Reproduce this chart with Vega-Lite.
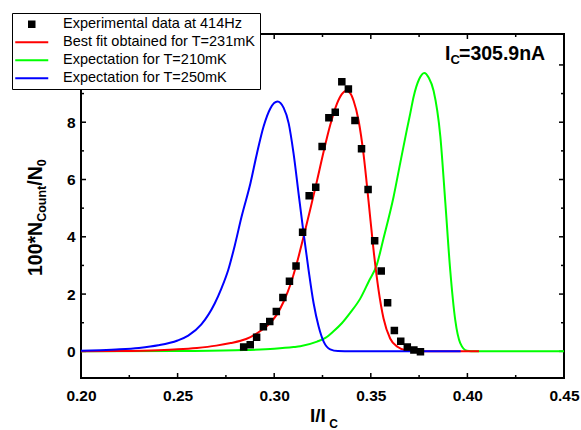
{
  "$schema": "https://vega.github.io/schema/vega-lite/v6.json",
  "width": 483,
  "height": 344,
  "autosize": {"type": "none"},
  "padding": {"left": 81, "top": 34, "right": 17, "bottom": 52},
  "background": "white",
  "config": {
    "font": "Liberation Sans",
    "view": {"stroke": "black", "strokeWidth": 2},
    "axis": {"grid": false, "domain": false, "ticks": false, "tickSize": 0, "labelFont": "Liberation Sans", "labelFontWeight": "bold", "labelFontSize": 15.5, "labelColor": "black", "labelFlush": false, "labelOverlap": false, "labelBound": false}
  },
  "datasets": {
    "xticks": [
      {"v": 0.2, "kind": "major"}, {"v": 0.25, "kind": "major"}, {"v": 0.3, "kind": "major"}, {"v": 0.35, "kind": "major"}, {"v": 0.4, "kind": "major"}, {"v": 0.45, "kind": "major"},
      {"v": 0.225, "kind": "minor"}, {"v": 0.275, "kind": "minor"}, {"v": 0.325, "kind": "minor"}, {"v": 0.375, "kind": "minor"}, {"v": 0.425, "kind": "minor"}
    ],
    "yticks": [
      {"v": 0, "kind": "major"}, {"v": 2, "kind": "major"}, {"v": 4, "kind": "major"}, {"v": 6, "kind": "major"}, {"v": 8, "kind": "major"}, {"v": 10, "kind": "major"},
      {"v": 1, "kind": "minor"}, {"v": 3, "kind": "minor"}, {"v": 5, "kind": "minor"}, {"v": 7, "kind": "minor"}, {"v": 9, "kind": "minor"}
    ],
    "curves": [
      {"series": "Expectation for T=210mK", "x": 0.20, "y": 0},
      {"series": "Expectation for T=210mK", "x": 0.25, "y": 0.01},
      {"series": "Expectation for T=210mK", "x": 0.28, "y": 0.04},
      {"series": "Expectation for T=210mK", "x": 0.30, "y": 0.09},
      {"series": "Expectation for T=210mK", "x": 0.31, "y": 0.15},
      {"series": "Expectation for T=210mK", "x": 0.3135, "y": 0.18},
      {"series": "Expectation for T=210mK", "x": 0.3222, "y": 0.34},
      {"series": "Expectation for T=210mK", "x": 0.3265, "y": 0.47},
      {"series": "Expectation for T=210mK", "x": 0.3307, "y": 0.7},
      {"series": "Expectation for T=210mK", "x": 0.335, "y": 0.98},
      {"series": "Expectation for T=210mK", "x": 0.3394, "y": 1.35},
      {"series": "Expectation for T=210mK", "x": 0.3446, "y": 1.85},
      {"series": "Expectation for T=210mK", "x": 0.349, "y": 2.45},
      {"series": "Expectation for T=210mK", "x": 0.353, "y": 3.0},
      {"series": "Expectation for T=210mK", "x": 0.3566, "y": 3.95},
      {"series": "Expectation for T=210mK", "x": 0.3618, "y": 5.4},
      {"series": "Expectation for T=210mK", "x": 0.3653, "y": 6.6},
      {"series": "Expectation for T=210mK", "x": 0.3687, "y": 7.75},
      {"series": "Expectation for T=210mK", "x": 0.3704, "y": 8.3},
      {"series": "Expectation for T=210mK", "x": 0.3722, "y": 8.9},
      {"series": "Expectation for T=210mK", "x": 0.375, "y": 9.5},
      {"series": "Expectation for T=210mK", "x": 0.3777, "y": 9.72},
      {"series": "Expectation for T=210mK", "x": 0.38, "y": 9.55},
      {"series": "Expectation for T=210mK", "x": 0.3825, "y": 9.1},
      {"series": "Expectation for T=210mK", "x": 0.386, "y": 7.5},
      {"series": "Expectation for T=210mK", "x": 0.3886, "y": 5.17},
      {"series": "Expectation for T=210mK", "x": 0.3911, "y": 2.84},
      {"series": "Expectation for T=210mK", "x": 0.3937, "y": 1.1},
      {"series": "Expectation for T=210mK", "x": 0.3963, "y": 0.29},
      {"series": "Expectation for T=210mK", "x": 0.3998, "y": 0.02},
      {"series": "Expectation for T=210mK", "x": 0.404, "y": 0},
      {"series": "Expectation for T=210mK", "x": 0.45, "y": 0},

      {"series": "Best fit obtained for T=231mK", "x": 0.20, "y": 0},
      {"series": "Best fit obtained for T=231mK", "x": 0.22, "y": 0.01},
      {"series": "Best fit obtained for T=231mK", "x": 0.24, "y": 0.04},
      {"series": "Best fit obtained for T=231mK", "x": 0.25, "y": 0.07},
      {"series": "Best fit obtained for T=231mK", "x": 0.26, "y": 0.12},
      {"series": "Best fit obtained for T=231mK", "x": 0.27, "y": 0.2},
      {"series": "Best fit obtained for T=231mK", "x": 0.2775, "y": 0.29},
      {"series": "Best fit obtained for T=231mK", "x": 0.2826, "y": 0.37},
      {"series": "Best fit obtained for T=231mK", "x": 0.2877, "y": 0.5},
      {"series": "Best fit obtained for T=231mK", "x": 0.293, "y": 0.72},
      {"series": "Best fit obtained for T=231mK", "x": 0.298, "y": 1.0},
      {"series": "Best fit obtained for T=231mK", "x": 0.3015, "y": 1.3},
      {"series": "Best fit obtained for T=231mK", "x": 0.3049, "y": 1.74},
      {"series": "Best fit obtained for T=231mK", "x": 0.3085, "y": 2.35},
      {"series": "Best fit obtained for T=231mK", "x": 0.3118, "y": 3.1},
      {"series": "Best fit obtained for T=231mK", "x": 0.3152, "y": 4.0},
      {"series": "Best fit obtained for T=231mK", "x": 0.3187, "y": 4.97},
      {"series": "Best fit obtained for T=231mK", "x": 0.3222, "y": 5.97},
      {"series": "Best fit obtained for T=231mK", "x": 0.3256, "y": 6.98},
      {"series": "Best fit obtained for T=231mK", "x": 0.329, "y": 7.9},
      {"series": "Best fit obtained for T=231mK", "x": 0.3325, "y": 8.65},
      {"series": "Best fit obtained for T=231mK", "x": 0.335, "y": 8.98},
      {"series": "Best fit obtained for T=231mK", "x": 0.3373, "y": 9.1},
      {"series": "Best fit obtained for T=231mK", "x": 0.3395, "y": 9.0},
      {"series": "Best fit obtained for T=231mK", "x": 0.3411, "y": 8.75},
      {"series": "Best fit obtained for T=231mK", "x": 0.3437, "y": 8.05},
      {"series": "Best fit obtained for T=231mK", "x": 0.3463, "y": 6.85},
      {"series": "Best fit obtained for T=231mK", "x": 0.3489, "y": 5.2},
      {"series": "Best fit obtained for T=231mK", "x": 0.3514, "y": 3.55},
      {"series": "Best fit obtained for T=231mK", "x": 0.354, "y": 2.15},
      {"series": "Best fit obtained for T=231mK", "x": 0.3566, "y": 1.15},
      {"series": "Best fit obtained for T=231mK", "x": 0.36, "y": 0.45},
      {"series": "Best fit obtained for T=231mK", "x": 0.364, "y": 0.15},
      {"series": "Best fit obtained for T=231mK", "x": 0.368, "y": 0.04},
      {"series": "Best fit obtained for T=231mK", "x": 0.372, "y": 0.01},
      {"series": "Best fit obtained for T=231mK", "x": 0.38, "y": 0},
      {"series": "Best fit obtained for T=231mK", "x": 0.406, "y": 0},

      {"series": "Expectation for T=250mK", "x": 0.20, "y": 0.02},
      {"series": "Expectation for T=250mK", "x": 0.21, "y": 0.04},
      {"series": "Expectation for T=250mK", "x": 0.22, "y": 0.07},
      {"series": "Expectation for T=250mK", "x": 0.23, "y": 0.12},
      {"series": "Expectation for T=250mK", "x": 0.24, "y": 0.21},
      {"series": "Expectation for T=250mK", "x": 0.25, "y": 0.38},
      {"series": "Expectation for T=250mK", "x": 0.2555, "y": 0.55},
      {"series": "Expectation for T=250mK", "x": 0.2623, "y": 0.94},
      {"series": "Expectation for T=250mK", "x": 0.2692, "y": 1.67},
      {"series": "Expectation for T=250mK", "x": 0.2727, "y": 2.2},
      {"series": "Expectation for T=250mK", "x": 0.2762, "y": 2.84},
      {"series": "Expectation for T=250mK", "x": 0.2796, "y": 3.7},
      {"series": "Expectation for T=250mK", "x": 0.2831, "y": 4.7},
      {"series": "Expectation for T=250mK", "x": 0.2877, "y": 5.87},
      {"series": "Expectation for T=250mK", "x": 0.2911, "y": 6.92},
      {"series": "Expectation for T=250mK", "x": 0.2945, "y": 7.85},
      {"series": "Expectation for T=250mK", "x": 0.298, "y": 8.48},
      {"series": "Expectation for T=250mK", "x": 0.3017, "y": 8.72},
      {"series": "Expectation for T=250mK", "x": 0.3049, "y": 8.5},
      {"series": "Expectation for T=250mK", "x": 0.3075, "y": 7.96},
      {"series": "Expectation for T=250mK", "x": 0.31, "y": 6.92},
      {"series": "Expectation for T=250mK", "x": 0.3126, "y": 5.52},
      {"series": "Expectation for T=250mK", "x": 0.3152, "y": 4.13},
      {"series": "Expectation for T=250mK", "x": 0.3178, "y": 2.84},
      {"series": "Expectation for T=250mK", "x": 0.3204, "y": 1.68},
      {"series": "Expectation for T=250mK", "x": 0.323, "y": 0.87},
      {"series": "Expectation for T=250mK", "x": 0.3256, "y": 0.34},
      {"series": "Expectation for T=250mK", "x": 0.329, "y": 0.07},
      {"series": "Expectation for T=250mK", "x": 0.333, "y": 0.01},
      {"series": "Expectation for T=250mK", "x": 0.34, "y": 0},
      {"series": "Expectation for T=250mK", "x": 0.3965, "y": 0}
    ],
    "exp": [
      {"series": "Experimental data at 414Hz", "x": 0.2842, "y": 0.15},
      {"series": "Experimental data at 414Hz", "x": 0.2876, "y": 0.23},
      {"series": "Experimental data at 414Hz", "x": 0.2909, "y": 0.49},
      {"series": "Experimental data at 414Hz", "x": 0.2944, "y": 0.86},
      {"series": "Experimental data at 414Hz", "x": 0.2977, "y": 1.04},
      {"series": "Experimental data at 414Hz", "x": 0.3011, "y": 1.39},
      {"series": "Experimental data at 414Hz", "x": 0.3045, "y": 1.88},
      {"series": "Experimental data at 414Hz", "x": 0.3079, "y": 2.45},
      {"series": "Experimental data at 414Hz", "x": 0.3113, "y": 2.98},
      {"series": "Experimental data at 414Hz", "x": 0.3147, "y": 4.16},
      {"series": "Experimental data at 414Hz", "x": 0.3181, "y": 5.43},
      {"series": "Experimental data at 414Hz", "x": 0.3215, "y": 5.73},
      {"series": "Experimental data at 414Hz", "x": 0.3248, "y": 7.15},
      {"series": "Experimental data at 414Hz", "x": 0.3283, "y": 8.16},
      {"series": "Experimental data at 414Hz", "x": 0.3316, "y": 8.35},
      {"series": "Experimental data at 414Hz", "x": 0.3350, "y": 9.41},
      {"series": "Experimental data at 414Hz", "x": 0.3384, "y": 9.16},
      {"series": "Experimental data at 414Hz", "x": 0.3418, "y": 8.06},
      {"series": "Experimental data at 414Hz", "x": 0.3452, "y": 7.07},
      {"series": "Experimental data at 414Hz", "x": 0.3486, "y": 5.65},
      {"series": "Experimental data at 414Hz", "x": 0.3520, "y": 3.86},
      {"series": "Experimental data at 414Hz", "x": 0.3554, "y": 2.81},
      {"series": "Experimental data at 414Hz", "x": 0.3587, "y": 1.70},
      {"series": "Experimental data at 414Hz", "x": 0.3622, "y": 0.73},
      {"series": "Experimental data at 414Hz", "x": 0.3655, "y": 0.35},
      {"series": "Experimental data at 414Hz", "x": 0.3689, "y": 0.15},
      {"series": "Experimental data at 414Hz", "x": 0.3723, "y": 0.05},
      {"series": "Experimental data at 414Hz", "x": 0.3757, "y": -0.01}
    ],
    "notes": [
      {"role": "xt", "text": "I/I", "x": 0.31853, "y": -2.466},
      {"role": "xs", "text": "C", "x": 0.3285, "y": -2.676},
      {"role": "ab", "text": "I", "x": 0.38841, "y": 10.172},
      {"role": "as", "text": "C", "x": 0.39125, "y": 10.033},
      {"role": "ab", "text": "=305.9nA", "x": 0.39565, "y": 10.172},
      {"role": "yt", "text": "100*N", "x": 0.17981, "y": 2.631},
      {"role": "ys", "text": "Count", "x": 0.18188, "y": 4.523},
      {"role": "yt", "text": "/N", "x": 0.17981, "y": 5.784},
      {"role": "ys", "text": "0", "x": 0.18188, "y": 6.465}
    ]
  },
  "layer": [
    {
      "data": {"name": "xticks"},
      "transform": [{"filter": "datum.kind === 'major'"}],
      "mark": {"type": "rule", "color": "black", "strokeWidth": 1.5},
      "encoding": {
        "x": {"field": "v", "type": "quantitative", "scale": {"domain": [0.2, 0.45], "nice": false, "zero": false}, "axis": {"orient": "bottom", "values": [0.2, 0.25, 0.3, 0.35, 0.4, 0.45], "format": ".2f", "labelPadding": 10, "title": null}},
        "y": {"datum": -0.93, "type": "quantitative", "scale": {"domain": [-0.93, 11.08], "nice": false, "zero": false}, "axis": {"orient": "left", "values": [0, 2, 4, 6, 8], "format": "d", "labelPadding": 6, "title": null}},
        "y2": {"datum": -0.755}
      }
    },
    {
      "data": {"name": "xticks"},
      "transform": [{"filter": "datum.kind === 'minor'"}],
      "mark": {"type": "rule", "color": "black", "strokeWidth": 1.5},
      "encoding": {
        "x": {"field": "v", "type": "quantitative"},
        "y": {"datum": -0.93, "type": "quantitative"},
        "y2": {"datum": -0.825}
      }
    },
    {
      "data": {"name": "xticks"},
      "transform": [{"filter": "datum.kind === 'major'"}],
      "mark": {"type": "rule", "color": "black", "strokeWidth": 1.5},
      "encoding": {
        "x": {"field": "v", "type": "quantitative"},
        "y": {"datum": 11.08, "type": "quantitative"},
        "y2": {"datum": 10.905}
      }
    },
    {
      "data": {"name": "xticks"},
      "transform": [{"filter": "datum.kind === 'minor'"}],
      "mark": {"type": "rule", "color": "black", "strokeWidth": 1.5},
      "encoding": {
        "x": {"field": "v", "type": "quantitative"},
        "y": {"datum": 11.08, "type": "quantitative"},
        "y2": {"datum": 10.975}
      }
    },
    {
      "data": {"name": "yticks"},
      "transform": [{"filter": "datum.kind === 'major'"}],
      "mark": {"type": "rule", "color": "black", "strokeWidth": 1.5},
      "encoding": {
        "y": {"field": "v", "type": "quantitative"},
        "x": {"datum": 0.2, "type": "quantitative"},
        "x2": {"datum": 0.20259}
      }
    },
    {
      "data": {"name": "yticks"},
      "transform": [{"filter": "datum.kind === 'minor'"}],
      "mark": {"type": "rule", "color": "black", "strokeWidth": 1.5},
      "encoding": {
        "y": {"field": "v", "type": "quantitative"},
        "x": {"datum": 0.2, "type": "quantitative"},
        "x2": {"datum": 0.20155}
      }
    },
    {
      "data": {"name": "yticks"},
      "transform": [{"filter": "datum.kind === 'major'"}],
      "mark": {"type": "rule", "color": "black", "strokeWidth": 1.5},
      "encoding": {
        "y": {"field": "v", "type": "quantitative"},
        "x": {"datum": 0.45, "type": "quantitative"},
        "x2": {"datum": 0.44741}
      }
    },
    {
      "data": {"name": "yticks"},
      "transform": [{"filter": "datum.kind === 'minor'"}],
      "mark": {"type": "rule", "color": "black", "strokeWidth": 1.5},
      "encoding": {
        "y": {"field": "v", "type": "quantitative"},
        "x": {"datum": 0.45, "type": "quantitative"},
        "x2": {"datum": 0.44845}
      }
    },
    {
      "data": {"name": "curves"},
      "transform": [{"filter": "datum.series === 'Expectation for T=210mK'"}],
      "mark": {"type": "line", "strokeWidth": 2, "interpolate": "monotone", "color": "#00ff00"},
      "encoding": {
        "x": {"field": "x", "type": "quantitative"},
        "y": {"field": "y", "type": "quantitative"}
      }
    },
    {
      "data": {"name": "curves"},
      "transform": [{"filter": "datum.series === 'Best fit obtained for T=231mK'"}],
      "mark": {"type": "line", "strokeWidth": 2, "interpolate": "monotone", "color": "#ff0000"},
      "encoding": {
        "x": {"field": "x", "type": "quantitative"},
        "y": {"field": "y", "type": "quantitative"}
      }
    },
    {
      "data": {"name": "curves"},
      "transform": [{"filter": "datum.series === 'Expectation for T=250mK'"}],
      "mark": {"type": "line", "strokeWidth": 2, "interpolate": "monotone", "color": "#0000ff"},
      "encoding": {
        "x": {"field": "x", "type": "quantitative"},
        "y": {"field": "y", "type": "quantitative"}
      }
    },
    {
      "data": {"name": "exp"},
      "mark": {"type": "point", "filled": true, "size": 100, "opacity": 1, "strokeWidth": 2},
      "encoding": {
        "x": {"field": "x", "type": "quantitative"},
        "y": {"field": "y", "type": "quantitative"},
        "color": {"field": "series", "type": "nominal", "scale": {"domain": ["Experimental data at 414Hz", "Best fit obtained for T=231mK", "Expectation for T=210mK", "Expectation for T=250mK"], "range": ["#000000", "#ff0000", "#00ff00", "#0000ff"]},
          "legend": {"orient": "none", "legendX": -69, "legendY": -21, "title": null, "fillColor": "white", "strokeColor": "black", "padding": 4, "symbolOffset": 8.5, "symbolSize": 100, "symbolStrokeWidth": 2, "labelFont": "Liberation Sans", "labelFontSize": 14.5, "labelColor": "black", "labelOffset": 24, "rowPadding": 3, "labelLimit": 400, "labelExpr": "datum.label + '\u00a0\u00a0\u00a0\u00a0'"}},
        "stroke": {"field": "series", "type": "nominal", "scale": {"domain": ["Experimental data at 414Hz", "Best fit obtained for T=231mK", "Expectation for T=210mK", "Expectation for T=250mK"], "range": ["#000000", "#ff0000", "#00ff00", "#0000ff"]},
          "legend": {"orient": "none", "legendX": -69, "legendY": -21, "title": null, "fillColor": "white", "strokeColor": "black", "padding": 4, "symbolOffset": 8.5, "symbolSize": 100, "symbolStrokeWidth": 2, "labelFont": "Liberation Sans", "labelFontSize": 14.5, "labelColor": "black", "labelOffset": 24, "rowPadding": 3, "labelLimit": 400, "labelExpr": "datum.label + '\u00a0\u00a0\u00a0\u00a0'"}},
        "shape": {"field": "series", "type": "nominal", "scale": {"domain": ["Experimental data at 414Hz", "Best fit obtained for T=231mK", "Expectation for T=210mK", "Expectation for T=250mK"], "range": ["M-0.55,-0.55H0.55V0.55H-0.55Z", "M-3.3,0H3.3", "M-3.3,0H3.3", "M-3.3,0H3.3"]},
          "legend": {"orient": "none", "legendX": -69, "legendY": -21, "title": null, "fillColor": "white", "strokeColor": "black", "padding": 4, "symbolOffset": 8.5, "symbolSize": 100, "symbolStrokeWidth": 2, "labelFont": "Liberation Sans", "labelFontSize": 14.5, "labelColor": "black", "labelOffset": 24, "rowPadding": 3, "labelLimit": 400, "labelExpr": "datum.label + '\u00a0\u00a0\u00a0\u00a0'"}}
      }
    },
    {
      "data": {"name": "notes"},
      "transform": [{"filter": "datum.role === 'xt'"}],
      "mark": {"type": "text", "font": "Liberation Sans", "fontWeight": "bold", "fontSize": 19, "align": "left", "baseline": "alphabetic", "color": "black"},
      "encoding": {"x": {"field": "x", "type": "quantitative"}, "y": {"field": "y", "type": "quantitative"}, "text": {"field": "text"}}
    },
    {
      "data": {"name": "notes"},
      "transform": [{"filter": "datum.role === 'xs'"}],
      "mark": {"type": "text", "font": "Liberation Sans", "fontWeight": "bold", "fontSize": 12, "align": "left", "baseline": "alphabetic", "color": "black"},
      "encoding": {"x": {"field": "x", "type": "quantitative"}, "y": {"field": "y", "type": "quantitative"}, "text": {"field": "text"}}
    },
    {
      "data": {"name": "notes"},
      "transform": [{"filter": "datum.role === 'ab'"}],
      "mark": {"type": "text", "font": "Liberation Sans", "fontWeight": "bold", "fontSize": 19.5, "align": "left", "baseline": "alphabetic", "color": "black"},
      "encoding": {"x": {"field": "x", "type": "quantitative"}, "y": {"field": "y", "type": "quantitative"}, "text": {"field": "text"}}
    },
    {
      "data": {"name": "notes"},
      "transform": [{"filter": "datum.role === 'as'"}],
      "mark": {"type": "text", "font": "Liberation Sans", "fontWeight": "bold", "fontSize": 13, "align": "left", "baseline": "alphabetic", "color": "black"},
      "encoding": {"x": {"field": "x", "type": "quantitative"}, "y": {"field": "y", "type": "quantitative"}, "text": {"field": "text"}}
    },
    {
      "data": {"name": "notes"},
      "transform": [{"filter": "datum.role === 'yt'"}],
      "mark": {"type": "text", "font": "Liberation Sans", "fontWeight": "bold", "fontSize": 19.5, "align": "left", "baseline": "alphabetic", "angle": 270, "color": "black"},
      "encoding": {"x": {"field": "x", "type": "quantitative"}, "y": {"field": "y", "type": "quantitative"}, "text": {"field": "text"}}
    },
    {
      "data": {"name": "notes"},
      "transform": [{"filter": "datum.role === 'ys'"}],
      "mark": {"type": "text", "font": "Liberation Sans", "fontWeight": "bold", "fontSize": 12.5, "align": "left", "baseline": "alphabetic", "angle": 270, "color": "black"},
      "encoding": {"x": {"field": "x", "type": "quantitative"}, "y": {"field": "y", "type": "quantitative"}, "text": {"field": "text"}}
    }
  ]
}
